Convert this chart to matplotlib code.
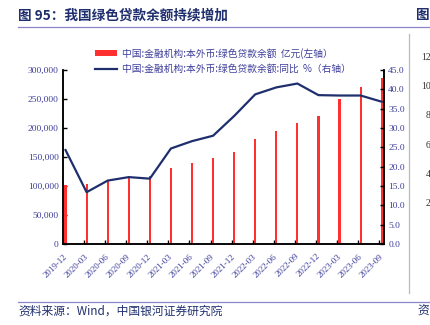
import numpy as np
import matplotlib
matplotlib.use("Agg")
import matplotlib.pyplot as plt
from matplotlib.patches import Patch
from matplotlib.lines import Line2D

# ----------------------------------------------------------------
# Data
# ----------------------------------------------------------------
dates = ["2019-12", "2020-03", "2020-06", "2020-09", "2020-12",
         "2021-03", "2021-06", "2021-09", "2021-12",
         "2022-03", "2022-06", "2022-09", "2022-12",
         "2023-03", "2023-06", "2023-09"]
balance = [101200, 104000, 109200, 115500, 116700,
           130300, 140000, 148000, 158800,
           180500, 195000, 208800, 220500,
           250000, 270000, 286000]          # 亿元, left axis
yoy = [24.3, 13.4, 16.4, 17.3, 16.9,
       24.7, 26.6, 28.0, 33.1,
       38.7, 40.5, 41.5, 38.5,
       38.4, 38.4, 36.8]                    # %, right axis
left_ticks = [0, 50000, 100000, 150000, 200000, 250000, 300000]
right_ticks = [0, 5, 10, 15, 20, 25, 30, 35, 40, 45]
# visible part of the next chart's axis labels (cut by the page edge)
neighbour_ticks = ["12", "10", "8", "6", "4", "2"]

label_bar = "中国:金融机构:本外币:绿色贷款余额  亿元(左轴）"
label_line = "中国:金融机构:本外币:绿色贷款余额:同比  %（右轴）"

# ----------------------------------------------------------------
# Style
# ----------------------------------------------------------------
CJK = ["Noto Sans CJK SC", "DejaVu Sans"]
SERIF = ["Liberation Serif", "DejaVu Serif"]
NAVY = "#1f2f6e"
TXT = "#3d3d9a"
RED = "#ff3030"
RULE = "#8a86c8"

W, H = 430, 325
fig = plt.figure(figsize=(W / 100, H / 100), dpi=100)

def fx(px):
    return px / W

def fy(py):
    return 1 - py / H

# header / footer
fig.text(fx(18), fy(15), "图 95：我国绿色贷款余额持续增加", family=CJK,
         fontsize=9.8, fontweight="bold", color=NAVY, va="center", ha="left")
fig.text(fx(416), fy(15), "图", family=CJK, fontsize=9.8,
         fontweight="bold", color=NAVY, va="center", ha="left")
fig.add_artist(Line2D([fx(18), 1], [fy(27), fy(27)], color=RULE, lw=0.9))
fig.add_artist(Line2D([fx(18), 1], [fy(302), fy(302)], color=RULE, lw=0.9))
fig.text(fx(18), fy(311), "资料来源：Wind，中国银河证券研究院", family=CJK,
         fontsize=8.5, color=NAVY, va="center", ha="left")
fig.text(fx(417), fy(311), "资", family=CJK, fontsize=8.5,
         color=NAVY, va="center", ha="left")

# neighbouring chart fragment on the right
fig.add_artist(Line2D([fx(409), fx(409)], [fy(34), fy(293)],
                      color="#bbbbbb", lw=0.9))
for i, t in enumerate(neighbour_ticks):
    fig.text(fx(431 - 5 * len(t)), fy(57 + i * 29.4), t, family=SERIF,
             fontsize=7, color="#333333", va="center", ha="left")

# ----------------------------------------------------------------
# Main axes
# ----------------------------------------------------------------
ax = fig.add_axes([fx(63), fy(244), fx(384 - 63), (244 - 70) / H])
ax2 = ax.twinx()

x = np.arange(len(dates))
ax.bar(x + 0.12, balance, width=0.1, color=RED, zorder=2)
ax2.plot(x + 0.12, yoy, color=NAVY, lw=1.6, zorder=3)

ax.set_xlim(0, 15.23)
ax.set_ylim(0, 300000)
ax2.set_ylim(0, 45)

ax.set_yticks(left_ticks)
ax.set_yticklabels([f"{v:,}" for v in left_ticks])
ax2.set_yticks(right_ticks)
ax2.set_yticklabels([f"{v:.1f}" for v in right_ticks])
ax.set_xticks(x)
ax.set_xticklabels(dates, rotation=45, ha="right", rotation_mode="anchor")

for a in (ax, ax2):
    a.spines["top"].set_visible(False)
    for s in ("left", "right", "bottom"):
        a.spines[s].set_color("black")
        a.spines[s].set_linewidth(1.1)
    a.tick_params(direction="in", length=3, width=1, color="black",
                  labelcolor=TXT, labelsize=6.8, pad=3)
    for lbl in a.get_yticklabels() + a.get_xticklabels():
        lbl.set_family(SERIF)
ax.tick_params(axis="x", pad=6, labelsize=6.5)
ax.patch.set_visible(False)

handles = [Patch(facecolor=RED, edgecolor="none"),
           Line2D([], [], color=NAVY, lw=1.6)]
leg = ax2.legend(handles, [label_bar, label_line], loc="upper left",
                 bbox_to_anchor=(fx(95), fy(48)),
                 bbox_transform=fig.transFigure, frameon=False,
                 prop={"family": CJK, "size": 7},
                 handlelength=2.3, handleheight=0.6, handletextpad=0.45,
                 labelspacing=0.5, borderaxespad=0, borderpad=0)
for t in leg.get_texts():
    t.set_color(TXT)

fig.savefig("out.png", dpi=100)
